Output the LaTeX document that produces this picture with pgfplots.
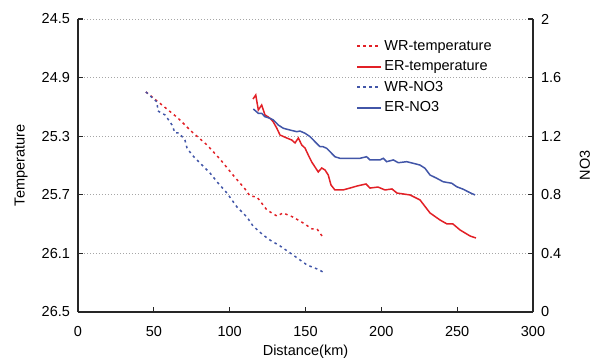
\documentclass[border=0pt]{standalone}
\usepackage{pgfplots}
\pgfplotsset{compat=1.18}
\usepackage{fontspec}
\setmainfont{Liberation Sans}

\definecolor{tred}{RGB}{226,32,38}
\definecolor{nblue}{RGB}{66,86,168}

\begin{document}
\fontsize{14.5}{17}\selectfont
\begin{tikzpicture}
\pgfplotsset{
  common/.style={
    width=455pt, height=293pt, scale only axis,
    xmin=0, xmax=300, xtick={0,50,...,300},
    /pgf/number format/assume math mode=true,
    tick label style={font=\fontsize{14.5}{17}\selectfont},
    label style={font=\fontsize{14.5}{17}\selectfont},
    axis line style={line width=1.2pt, black!85},
    tick style={line width=1.2pt, black!85},
    major tick length=5pt,
    tick align=inside,
    clip=false,
  },
  wrline/.style={line width=1.5pt, dash pattern=on 2.5pt off 3.5pt},
  erline/.style={line width=1.5pt, solid},
}

% Temperature (reversed scale, left)
\begin{axis}[common,
  axis x line=none,
  axis y line*=left,
  y dir=reverse,
  ymin=24.5, ymax=26.5,
  ytick={24.5,24.9,25.3,25.7,26.1,26.5},
  yticklabel style={xshift=-3pt, /pgf/number format/.cd, fixed, fixed zerofill, precision=1},
  ymajorgrids,
  grid style={black!35, line width=0.8pt, dash pattern=on 1pt off 2pt},
  ylabel={Temperature},
  ylabel style={at={(axis description cs:-0.125,0.5)}, anchor=center},
]
% WR-temperature
\addplot[tred, wrline] coordinates {
(44.8,24.998) (55.4,25.087) (65.9,25.176) (75.2,25.271) (85.1,25.360)
(93.6,25.456) (102.2,25.565) (110.1,25.660) (113.4,25.708) (118.0,25.715)
(124.6,25.804) (131.2,25.845) (135.2,25.824) (141.8,25.852) (148.4,25.892)
(154.3,25.933) (157.6,25.933) (160.9,25.981)
};
% ER-temperature
\addplot[tred, erline] coordinates {
(115.4,25.046) (117.2,25.019) (118.9,25.121) (121.1,25.087) (123.3,25.155)
(125.5,25.169) (127.7,25.189) (128.8,25.203) (131.0,25.244) (133.2,25.292)
(137.6,25.312) (140.9,25.326) (143.1,25.346) (145.3,25.312) (147.5,25.360)
(149.7,25.381) (151.8,25.428) (154.1,25.476) (158.4,25.544) (160.7,25.517)
(162.9,25.531) (165.0,25.565) (166.8,25.633) (169.4,25.667) (174.7,25.667)
(179.3,25.654) (184.0,25.640) (189.9,25.626) (192.5,25.654) (197.8,25.647)
(202.4,25.667) (207.0,25.660) (210.3,25.688) (218.9,25.701) (225.5,25.735)
(232.1,25.824) (238.7,25.872) (243.3,25.899) (247.2,25.899) (251.9,25.940)
(258.5,25.981) (262.4,25.995)
};
\end{axis}

% NO3 (right)
\begin{axis}[common,
  axis x line*=bottom,
  axis y line*=right,
  ymin=0, ymax=2,
  ytick={0,0.4,0.8,1.2,1.6,2},
  xticklabel style={yshift=-9pt},
  yticklabel style={xshift=3pt},
  xlabel={Distance(km)},
  ylabel={NO3},
  xlabel style={at={(axis description cs:0.5,-0.137)}, anchor=center},
  ylabel style={at={(axis description cs:1.114,0.5)}, anchor=center},
  legend style={at={(0.605,0.942)}, anchor=north west, draw=none, fill=none,
    font=\fontsize{14.5}{17}\selectfont, row sep=4.2pt,
    /tikz/every even column/.append style={column sep=0pt}},
  legend cell align=left,
  legend image code/.code={\draw[#1, line width=2pt] (0pt,0pt) -- (24pt,0pt);},
]
\addlegendimage{tred, wrline}
\addlegendimage{tred, erline}
% WR-NO3
\addplot[nblue, wrline] coordinates {
(44.8,1.502) (52.1,1.433) (52.7,1.372) (57.4,1.345) (60.7,1.297)
(62.0,1.276) (64.0,1.222) (66.6,1.222) (70.5,1.174) (71.9,1.119)
(75.2,1.072) (80.4,1.017) (87.0,0.949) (92.3,0.881) (98.2,0.812)
(104.8,0.717) (111.4,0.648) (115.4,0.587) (122.0,0.526) (126.6,0.491)
(133.2,0.451) (141.8,0.389) (151.0,0.321) (157.6,0.294) (162.9,0.266)
};
% ER-NO3
\addplot[nblue, erline] coordinates {
(115.6,1.386) (118.9,1.356) (121.1,1.356) (123.3,1.333) (126.6,1.322)
(128.8,1.311) (132.1,1.276) (135.4,1.254) (139.8,1.242) (144.2,1.231)
(146.4,1.235) (149.7,1.220) (153.0,1.197) (156.3,1.162) (159.6,1.128)
(161.7,1.128) (164.0,1.117) (166.2,1.094) (169.4,1.060) (172.7,1.049)
(185.9,1.049) (190.3,1.060) (192.5,1.038) (199.1,1.038) (201.3,1.049)
(203.5,1.026) (207.9,1.038) (211.2,1.019) (216.7,1.026) (221.1,1.015)
(225.5,1.003) (228.8,0.981) (232.1,0.935) (236.5,0.913) (240.8,0.889)
(244.1,0.883) (246.4,0.879) (249.7,0.855) (254.0,0.838) (258.5,0.814)
(261.8,0.799)
};
\legend{WR-temperature, ER-temperature, WR-NO3, ER-NO3}
\end{axis}

\pgfresetboundingbox
\path (-78pt,-47pt) rectangle (516pt,312pt);
\end{tikzpicture}
\end{document}
